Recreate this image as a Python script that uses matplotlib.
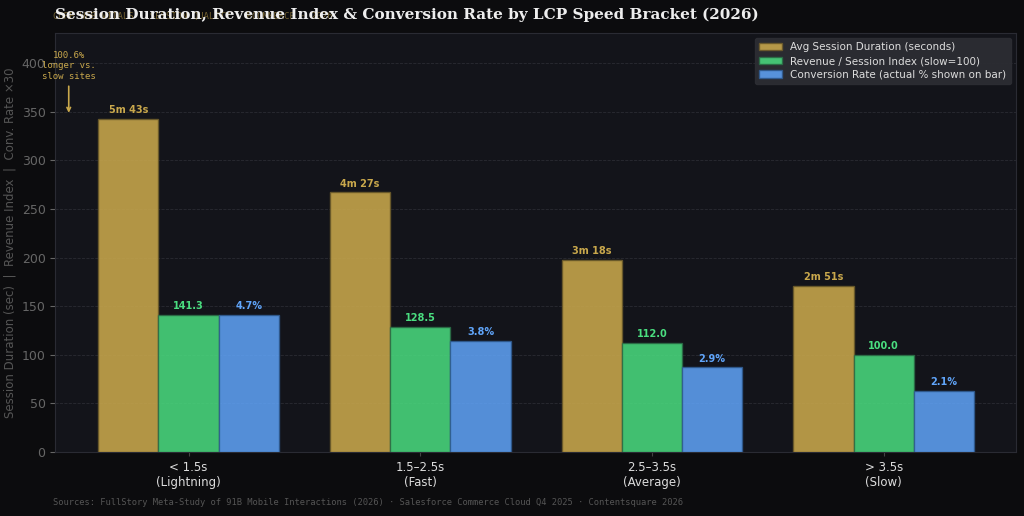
import numpy as np
import matplotlib.pyplot as plt

brackets = ["< 1.5s\n(Lightning)", "1.5–2.5s\n(Fast)", "2.5–3.5s\n(Average)", "> 3.5s\n(Slow)"]
session_sec = [343, 267, 198, 171]
session_lbl = ["5m 43s", "4m 27s", "3m 18s", "2m 51s"]
revenue_idx = [141.3, 128.5, 112.0, 100.0]
conv_rate = [4.7, 3.8, 2.9, 2.1]

gold = "#c9a84c"
green = "#4ade80"
blue = "#60a5fa"

fig = plt.figure(figsize=(10.24, 5.16), dpi=100, facecolor="#0c0c0e")
ax = fig.add_axes([0.054, 0.124, 0.938, 0.812])
ax.set_facecolor("#13141a")

x = np.arange(len(brackets))
w = 0.26
conv_scaled = [c * 30 for c in conv_rate]

ax.bar(x - w, session_sec, w, color=gold, alpha=0.88, edgecolor="#6b5a2a", lw=1,
       label="Avg Session Duration (seconds)", zorder=3)
ax.bar(x, revenue_idx, w, color=green, alpha=0.85, edgecolor="#2a6b45", lw=1,
       label="Revenue / Session Index (slow=100)", zorder=3)
ax.bar(x + w, conv_scaled, w, color=blue, alpha=0.85, edgecolor="#2f5a8f", lw=1,
       label="Conversion Rate (actual % shown on bar)", zorder=3)

for i in range(len(x)):
    ax.text(x[i] - w, session_sec[i] + 4, session_lbl[i], ha="center", va="bottom",
            color=gold, fontsize=7, fontweight="bold")
    ax.text(x[i], revenue_idx[i] + 4, f"{revenue_idx[i]:.1f}", ha="center", va="bottom",
            color=green, fontsize=7, fontweight="bold")
    ax.text(x[i] + w, conv_scaled[i] + 4, f"{conv_rate[i]}%", ha="center", va="bottom",
            color=blue, fontsize=7, fontweight="bold")

ax.annotate("100.6%\nlonger vs.\nslow sites", xy=(-0.517, 346), xytext=(-0.517, 382),
            ha="center", va="bottom", color=gold, fontsize=6.5, family="DejaVu Sans Mono",
            arrowprops=dict(arrowstyle="->", color=gold, lw=1.2))

ax.set_xlim(-0.575, 3.57)
ax.set_ylim(0, 431)
ax.set_xticks(x)
ax.set_xticklabels(brackets, color="#dddddd", fontsize=8.5)
ax.tick_params(axis="y", colors="#666666", labelsize=9)
ax.tick_params(axis="x", colors="#444444", length=3)
for lbl in ax.get_xticklabels():
    lbl.set_color("#dddddd")
ax.set_ylabel("Session Duration (sec)  |  Revenue Index  |  Conv. Rate ×30",
              color="#555555", fontsize=8.5)
ax.grid(axis="y", color="#2a2b33", linestyle="--", lw=0.6, zorder=0)
for s in ax.spines.values():
    s.set_color("#2a2b33")

ax.legend(loc="upper right", fontsize=7.5, facecolor="#2c2d33", edgecolor="#2c2d33",
          framealpha=0.95, labelcolor="#dddddd", labelspacing=0.35, handlelength=2.2)

fig.text(0.052, 0.968, "CORE WEB VITALS · SESSION QUALITY · ECOMMERCE · 2026",
         color=gold, alpha=0.55, fontsize=6.5, family="DejaVu Sans Mono", va="center")
fig.text(0.054, 0.972, "Session Duration, Revenue Index & Conversion Rate by LCP Speed Bracket (2026)",
         color="#eeeeee", fontsize=11, fontweight="bold", family="DejaVu Serif", va="center")
fig.text(0.052, 0.022, "Sources: FullStory Meta-Study of 91B Mobile Interactions (2026) · "
         "Salesforce Commerce Cloud Q4 2025 · Contentsquare 2026",
         color="#555555", fontsize=6.3, family="DejaVu Sans Mono")

fig.savefig("out.png", dpi=100, facecolor=fig.get_facecolor())
